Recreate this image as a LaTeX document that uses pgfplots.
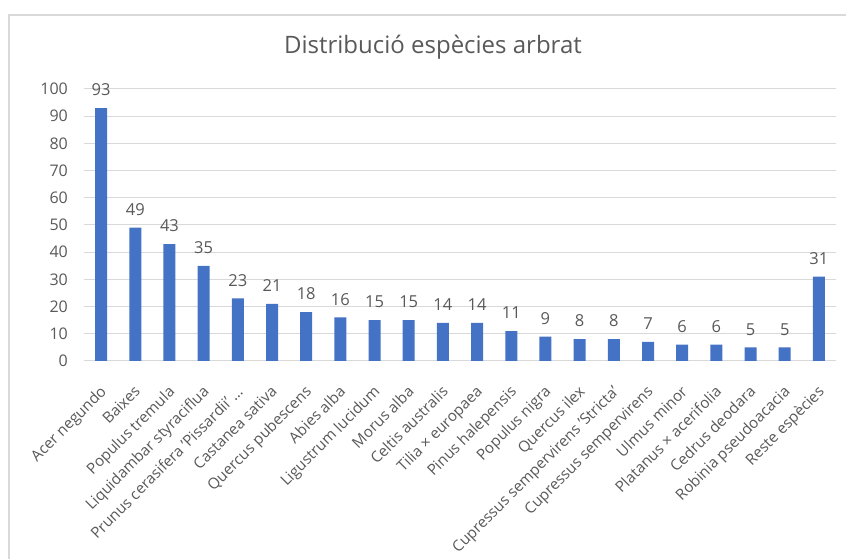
\documentclass[border=0pt]{standalone}
\usepackage{pgfplots}
\pgfplotsset{compat=1.18}
\usepackage{fontspec}
\setmainfont{Open Sans}
\definecolor{barblue}{HTML}{4472C4}
\definecolor{txtgray}{HTML}{595959}
\definecolor{gridgray}{HTML}{D9D9D9}
\begin{document}
\begin{tikzpicture}[x=1bp,y=1bp]
\useasboundingbox (-84,-198) rectangle (762,361);
\draw[gridgray, line width=1.5bp] (-75,-220) -- (-75,346) -- (780,346);
\node[txtgray, font=\fontsize{24bp}{28bp}\selectfont] at (349,314) {Distribució espècies arbrat};
\begin{axis}[
  at={(0,0)}, anchor=south west,
  scale only axis, width=752bp, height=272bp,
  xmin=-0.5, xmax=21.5, ymin=0, ymax=100,
  ytick={0,10,...,100},
  xtick={0,...,21},
  xticklabels={Acer negundo,Baixes,Populus tremula,Liquidambar styraciflua,Prunus cerasifera 'Pissardii' …,Castanea sativa,Quercus pubescens,Abies alba,Ligustrum lucidum,Morus alba,Celtis australis,Tilia × europaea,Pinus halepensis,Populus nigra,Quercus ilex,Cupressus sempervirens 'Stricta',Cupressus sempervirens,Ulmus minor,Platanus × acerifolia,Cedrus deodara,Robinia pseudoacacia,Reste espècies},
  xticklabel style={rotate=45, anchor=north east, inner sep=1bp, font=\fontsize{15.2bp}{18bp}\selectfont, text=txtgray, yshift=-14bp, xshift=-17bp},
  yticklabel style={font=\fontsize{16bp}{19bp}\selectfont, text=txtgray, inner sep=0pt, xshift=-16bp},
  /pgf/number format/assume math mode=true,
  major tick length=0pt,
  ymajorgrids, grid style={gridgray, line width=1bp},
  axis x line*=bottom, axis y line*=left,
  x axis line style={draw=gridgray, line width=1bp, -},
  y axis line style={draw=none},
  ybar, bar width=12bp,
  nodes near coords,
  every node near coord/.append style={font=\fontsize{16.5bp}{19bp}\selectfont, text=txtgray, anchor=south, inner sep=0pt, yshift=12bp},
  clip=false,
]
\addplot[fill=barblue, draw=none] coordinates {
(0,93) (1,49) (2,43) (3,35) (4,23) (5,21) (6,18) (7,16) (8,15) (9,15) (10,14)
(11,14) (12,11) (13,9) (14,8) (15,8) (16,7) (17,6) (18,6) (19,5) (20,5) (21,31)
};
\end{axis}
\end{tikzpicture}
\end{document}
